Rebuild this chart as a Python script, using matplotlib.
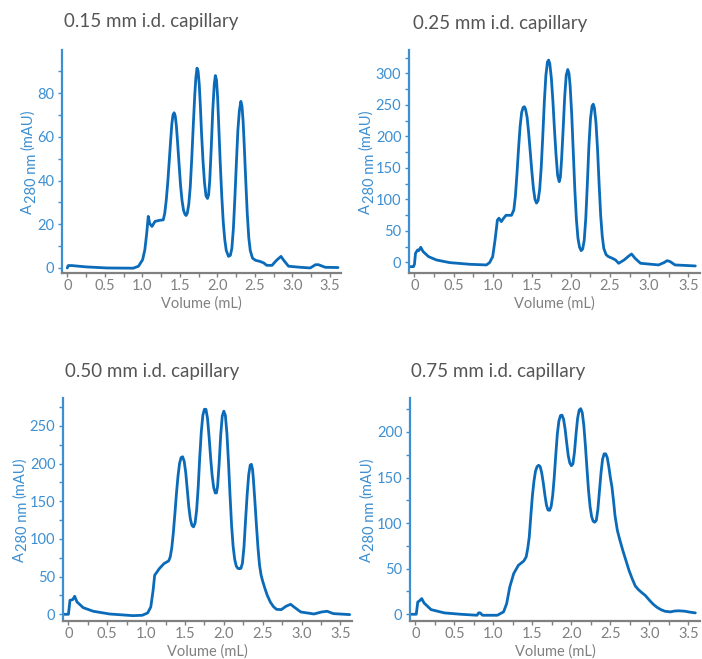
import matplotlib
matplotlib.use("Agg")
import matplotlib.pyplot as plt
from matplotlib.ticker import MultipleLocator, FuncFormatter

plt.rcParams['font.family'] = ['Lato', 'DejaVu Sans']

# ---------------- data ----------------
titles = ["0.15 mm i.d. capillary", "0.25 mm i.d. capillary",
          "0.50 mm i.d. capillary", "0.75 mm i.d. capillary"]

vol_015 = [0.0, 0.013, 0.06, 0.25, 0.53, 0.88, 0.95, 1.005, 1.035, 1.06, 1.08, 1.10, 1.13, 1.17,
           1.23, 1.28, 1.30, 1.32, 1.34, 1.36, 1.38, 1.395, 1.41, 1.425, 1.44, 1.455, 1.47, 1.49,
           1.51, 1.53, 1.55, 1.57, 1.585, 1.60, 1.62, 1.64, 1.66, 1.68, 1.70, 1.715, 1.73, 1.745,
           1.76, 1.775, 1.79, 1.81, 1.83, 1.85, 1.87, 1.885, 1.90, 1.92, 1.94, 1.96, 1.975, 1.99,
           2.005, 2.02, 2.04, 2.06, 2.08, 2.10, 2.12, 2.15, 2.175, 2.195, 2.215, 2.235, 2.255,
           2.275, 2.295, 2.315, 2.33, 2.345, 2.36, 2.38, 2.40, 2.42, 2.44, 2.47, 2.51, 2.57, 2.62,
           2.66, 2.73, 2.79, 2.85, 2.88, 2.95, 3.11, 3.24, 3.31, 3.35, 3.44, 3.61]
abs_015 = [0, 1.1, 1.1, 0.5, 0, -0.1, 0.8, 3.8, 8.4, 16, 23.6, 20.3, 19, 21.3,
           21.8, 22, 25, 31, 39, 49, 59, 66, 70, 71, 69.5, 65, 58, 48,
           38, 31, 26.5, 24.5, 24, 25, 29, 37, 50, 65, 79, 87, 91.4, 90,
           84, 74, 62, 49, 39, 33, 31.8, 33.5, 40, 55, 72, 84, 88, 86,
           78, 65, 48, 33, 21, 13, 8, 5.3, 5.8, 9, 18, 32, 48,
           63, 72, 76.2, 74, 67, 56, 40, 25, 14, 8, 4.5, 3.5, 3, 2.3,
           1.2, 1.2, 3.5, 5.3, 3.8, 0.8, 0.3, 0, 1.5, 1.5, 0.3, 0.2]

vol_025 = [-0.07, -0.013, 0.0, 0.013, 0.04, 0.055, 0.08, 0.11, 0.18, 0.28, 0.45, 0.71, 0.92, 0.96,
           1.0, 1.03, 1.06, 1.08, 1.11, 1.14, 1.17, 1.24, 1.27, 1.29, 1.31, 1.33, 1.35, 1.37, 1.39,
           1.405, 1.42, 1.44, 1.46, 1.48, 1.50, 1.52, 1.54, 1.56, 1.58, 1.60, 1.62, 1.64, 1.66,
           1.68, 1.70, 1.715, 1.73, 1.75, 1.77, 1.79, 1.81, 1.83, 1.85, 1.865, 1.88, 1.90, 1.92,
           1.94, 1.96, 1.975, 1.99, 2.01, 2.03, 2.05, 2.07, 2.09, 2.11, 2.13, 2.15, 2.17, 2.19,
           2.21, 2.23, 2.25, 2.27, 2.285, 2.30, 2.32, 2.34, 2.36, 2.38, 2.40, 2.42, 2.45, 2.48,
           2.53, 2.57, 2.61, 2.68, 2.74, 2.775, 2.82, 2.89, 3.12, 3.19, 3.23, 3.27, 3.33, 3.59]
abs_025 = [-6.9, -6.9, -3, 14.3, 19.6, 18.5, 23.8, 17, 9, 3.7, -0.5, -3.2, -4.2, -0.5,
           9, 35.4, 67, 70, 64.6, 70, 74.6, 74.6, 83, 105, 140, 180, 215, 238, 246,
           247, 243, 230, 205, 175, 145, 118, 100, 94, 98, 115, 150, 200, 255,
           297, 318, 321, 315, 292, 255, 210, 170, 138, 128, 135, 162, 210, 262,
           297, 306, 300, 280, 235, 175, 115, 68, 38, 24, 18.5, 21, 35, 70,
           125, 185, 228, 248, 251, 245, 222, 180, 125, 75, 42, 22, 12, 9,
           6.3, 3.7, -1.6, 3.7, 10, 13.2, 6.3, -1.6, -4.2, -0.5, 2.6, 1, -4.2, -5.8]

vol_050 = [-0.06, 0.0, 0.02, 0.055, 0.08, 0.11, 0.19, 0.32, 0.53, 0.83, 0.95, 1.02, 1.06,
           1.09, 1.11, 1.17, 1.23, 1.29, 1.31, 1.33, 1.35, 1.37, 1.39, 1.41, 1.43, 1.45, 1.47,
           1.49, 1.51, 1.53, 1.55, 1.57, 1.59, 1.61, 1.63, 1.65, 1.67, 1.69, 1.71, 1.73, 1.75,
           1.77, 1.79, 1.81, 1.83, 1.85, 1.87, 1.89, 1.905, 1.92, 1.94, 1.96, 1.98, 2.00, 2.02,
           2.04, 2.06, 2.08, 2.10, 2.12, 2.14, 2.16, 2.18, 2.20, 2.22, 2.24, 2.26, 2.28, 2.30,
           2.32, 2.34, 2.355, 2.37, 2.38, 2.40, 2.42, 2.44, 2.46, 2.48, 2.50, 2.53, 2.56, 2.60,
           2.64, 2.68, 2.74, 2.80, 2.86, 2.90, 2.99, 3.16, 3.26, 3.33, 3.41, 3.62]
abs_050 = [0, 0, 18.6, 19.5, 23.9, 16.4, 8.8, 4, 0.4, -1.8, -1.3, 1.8, 9.7,
           31.9, 51.8, 60.6, 67.3, 70.8, 76, 88, 108, 133, 160, 183, 200, 208, 209,
           203, 188, 165, 142, 126, 118, 116, 121, 138, 168, 208, 242, 264, 272,
           272, 260, 236, 208, 184, 168, 161, 161, 170, 200, 238, 263, 269.5, 264,
           240, 202, 158, 118, 90, 73, 64, 61, 60.5, 61, 68, 90, 125, 158,
           185, 198, 199, 192, 180, 150, 118, 88, 65, 52, 44, 34, 25, 16,
           10, 6.5, 6.2, 10.6, 13.3, 10, 3.1, 0.4, 3.1, 4, 0.9, -0.4]

vol_075 = [-0.07, 0.01, 0.03, 0.05, 0.08, 0.11, 0.20, 0.37, 0.58, 0.79, 0.81, 0.83, 0.86,
           1.05, 1.13, 1.17, 1.21, 1.26, 1.32, 1.39, 1.42, 1.44, 1.46, 1.48, 1.50, 1.52, 1.54,
           1.56, 1.58, 1.60, 1.62, 1.64, 1.66, 1.68, 1.70, 1.72, 1.74, 1.76, 1.78, 1.80, 1.82,
           1.84, 1.86, 1.88, 1.90, 1.92, 1.94, 1.96, 1.98, 2.00, 2.02, 2.04, 2.06, 2.08, 2.10,
           2.12, 2.14, 2.16, 2.18, 2.20, 2.22, 2.24, 2.26, 2.28, 2.30, 2.32, 2.34, 2.36, 2.38,
           2.40, 2.42, 2.44, 2.46, 2.48, 2.50, 2.52, 2.54, 2.56, 2.59, 2.62, 2.66, 2.70, 2.74,
           2.78, 2.82, 2.86, 2.90, 2.95, 3.00, 3.05, 3.10, 3.15, 3.20, 3.27, 3.32, 3.38, 3.46,
           3.52, 3.59]
abs_075 = [0, 0, 13.5, 14.6, 17.2, 12.4, 5.1, 1.5, 0, -1.1, 1.5, 1.5, -1.1,
           -1.1, 2.6, 11.7, 30, 44.6, 53.7, 58.5, 62.9, 72, 85, 108, 130, 146, 157,
           162, 163.5, 162, 155, 144, 131, 120, 114.5, 114, 118, 130, 150, 175, 198,
           212, 218, 218.5, 214, 203, 188, 174, 166, 163, 165, 178, 198, 215, 224,
           225.6, 221, 207, 185, 160, 136, 118, 107, 102, 101, 103, 115, 135, 155,
           170, 176, 176, 172, 162, 150, 140, 125, 108, 92, 82, 70, 59, 48,
           39, 31, 27, 24, 20.5, 15.5, 11, 7.5, 5, 3.3, 2.6, 3.5, 3.8, 3.3,
           2.3, 1.5]

series = [(vol_015, abs_015), (vol_025, abs_025), (vol_050, abs_050), (vol_075, abs_075)]

# ---------------- layout ----------------
W, H = 702, 659
LINE = '#0b6bb8'
BLUE = '#3d8fd1'
GRAY = '#808080'
TGRAY = '#555555'

# (left px, top px, width px, height px)
boxes = [(62, 50, 279, 223), (409, 50, 291, 223), (63, 398, 289, 223), (410, 398, 290, 223)]
ylims = [(-2.3, 99.7), (-17, 337), (-8.9, 287), (-7.4, 237.3)]
ymaj = [20, 50, 50, 50]
ylab_base_x = [32, 370, 24, 371]   # baseline x (px) of the rotated y label
title_pos = [(64, 22), (413, 23), (65, 372), (411, 372)]

fig = plt.figure(figsize=(W / 100, H / 100), dpi=100)

def xfmt(v, pos):
    return "0" if abs(v) < 1e-9 else f"{v:.1f}"

axes = []
for i in range(4):
    l, t, w, h = boxes[i]
    ax = fig.add_axes([l / W, 1 - (t + h) / H, w / W, h / H])
    axes.append(ax)
    x, y = series[i]
    ax.plot(x, y, color=LINE, lw=2.0, solid_joinstyle='round', solid_capstyle='round')
    ax.set_xlim(-0.07, 3.65)
    ax.set_ylim(*ylims[i])
    for s in ['top', 'right']:
        ax.spines[s].set_visible(False)
    ax.spines['left'].set_color(BLUE)
    ax.spines['left'].set_linewidth(1.6)
    ax.spines['bottom'].set_color(GRAY)
    ax.spines['bottom'].set_linewidth(1.6)
    ax.xaxis.set_major_locator(MultipleLocator(0.5))
    ax.xaxis.set_minor_locator(MultipleLocator(0.25))
    ax.xaxis.set_major_formatter(FuncFormatter(xfmt))
    ax.yaxis.set_major_locator(MultipleLocator(ymaj[i]))
    ax.yaxis.set_minor_locator(MultipleLocator(ymaj[i] / 2))
    ax.tick_params(axis='x', which='both', colors=GRAY, labelcolor=GRAY, labelsize=10.5,
                   length=3, width=1, pad=1.5)
    ax.tick_params(axis='y', which='both', colors=BLUE, labelcolor=BLUE, labelsize=10.5,
                   length=3, width=1, pad=2.5)
    ax.set_xlabel("Volume (mL)", color=GRAY, fontsize=10.5, labelpad=2)
    tx, ty = title_pos[i]
    fig.text(tx / W, 1 - ty / H, titles[i], color=TGRAY, fontsize=13.5, ha='left', va='center')

# composite y labels: "A" + lowered "280 nm" + "(mAU)"
fig.canvas.draw()
renderer = fig.canvas.get_renderer()
LS = 10.5
for i in range(4):
    l, t, w, h = boxes[i]
    cy = t + h / 2.0
    bx = ylab_base_x[i]
    kw = dict(rotation=90, rotation_mode='anchor', ha='left', va='baseline', color=BLUE,
              fontsize=LS)
    pa = fig.text(0, 0, "A", **kw)
    pb = fig.text(0, 0, "280 nm", **kw)
    pc = fig.text(0, 0, "(mAU)", **kw)
    la = pa.get_window_extent(renderer).height
    lb = pb.get_window_extent(renderer).height
    lc = pc.get_window_extent(renderer).height
    gap1, gap2 = 0.5, 4.0
    total = la + gap1 + lb + gap2 + lc
    y0 = cy + total / 2.0          # px from top, bottom of label
    pa.set_position((bx / W, 1 - y0 / H))
    pb.set_position(((bx + 3.5) / W, 1 - (y0 - la - gap1) / H))
    pc.set_position((bx / W, 1 - (y0 - la - gap1 - lb - gap2) / H))

fig.savefig("out.png", dpi=100)
